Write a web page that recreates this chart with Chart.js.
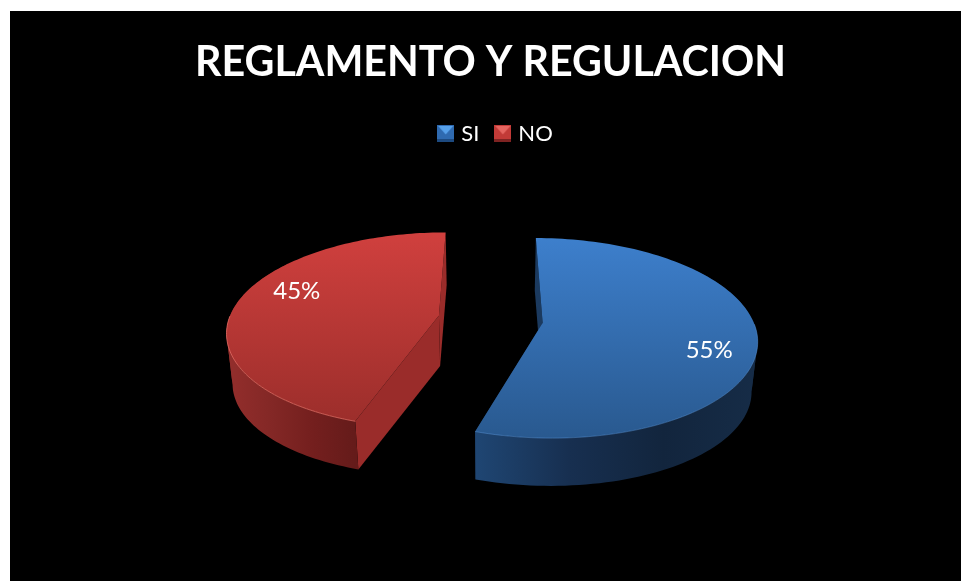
<!DOCTYPE html>
<html>
<head>
<meta charset="utf-8">
<title>REGLAMENTO Y REGULACION</title>
<script src="https://cdn.jsdelivr.net/npm/chart.js@4"></script>
<style>
html, body { margin: 0; background: #fff; overflow: hidden; width: 961px; height: 581px; }
#myChart { position: absolute; left: 10px; top: 11px; background: #000; }
</style>
</head>
<body>
<canvas id="myChart" width="961" height="570"></canvas>
<script>
const chartTitle = 'REGLAMENTO Y REGULACION';
const categories = ['SI', 'NO'];
const seriesValues = [55, 45];
const percentLabels = ['55%', '45%'];

// colours: top face gradient, outer wall gradient, cut face, rim, legend icon
const topColors = [['#3d7fcc', '#29598f'], ['#d0403e', '#9c2e2b']];
const wallColors = [['#1f4673', '#172f50', '#12253d', '#162c47'], ['#942e2c', '#842826', '#741f1e', '#651b1a']];
const cutColors = ['#1b3a5f', '#9a2c2a'];
const rimColors = ['rgba(90,150,220,0.45)', 'rgba(235,115,105,0.7)'];
const iconColors = [['#2f6ab0', '#56a0ea', '#1d4a80'], ['#c23a37', '#e56560', '#7f2322']];

// how the flat pie is laid down in perspective
const tilt = 0.46, persp = 0.15, depthShrink = 0.977, depthDrop = 50.5;
const labelTurn = 11 * Math.PI / 180, labelDist = 0.78;

// a point on the disc (px from pie centre) to the screen
function project(arc, dx, dy, low) {
  const R = arc.outerRadius;
  const w = 1 - persp * dy / R;
  let x = dx / w, y = dy * tilt / w;
  if (low) {
    x *= depthShrink;
    y = y * depthShrink + depthDrop;
  }
  return [arc.x + x, arc.y + y];
}

function arcOffset(arc) {
  const mid = (arc.startAngle + arc.endAngle) / 2;
  return [Math.cos(mid) * arc.options.offset, Math.sin(mid) * arc.options.offset];
}

function rimPoint(arc, angle, low) {
  const o = arcOffset(arc);
  return project(arc, o[0] + Math.cos(angle) * arc.outerRadius, o[1] + Math.sin(angle) * arc.outerRadius, low);
}

function apexPoint(arc, low) {
  const o = arcOffset(arc);
  return project(arc, o[0], o[1], low);
}

function poly(ctx, pts) {
  ctx.beginPath();
  pts.forEach((p, i) => i ? ctx.lineTo(p[0], p[1]) : ctx.moveTo(p[0], p[1]));
  ctx.closePath();
}

function drawSlice(ctx, arc, i) {
  const steps = 120;
  const angles = [];
  for (let s = 0; s <= steps; s++) angles.push(arc.startAngle + (arc.endAngle - arc.startAngle) * s / steps);
  const rim = angles.map(a => rimPoint(arc, a, false));
  const rimLow = angles.map(a => rimPoint(arc, a, true));
  const apex = apexPoint(arc, false), apexLow = apexPoint(arc, true);

  // cut faces
  ctx.fillStyle = cutColors[i];
  poly(ctx, [rim[0], apex, apexLow, rimLow[0]]);
  ctx.fill();
  poly(ctx, [rim[steps], apex, apexLow, rimLow[steps]]);
  ctx.fill();

  // outer wall, filled in two parts split at the side of the rim,
  // one path would cancel itself out where the band folds over
  const xs = rim.map(p => p[0]);
  const left = Math.min(...xs), right = Math.max(...xs);
  const wall = i === 0
    ? ctx.createLinearGradient(rim[steps][0], 0, right, 0)
    : ctx.createLinearGradient(left, 0, rim[0][0], 0);
  wallColors[i].forEach((c, k) => wall.addColorStop(k / (wallColors[i].length - 1), c));
  ctx.fillStyle = wall;
  const band = [];
  angles.forEach((a, s) => { if (Math.sin(a) > -0.6) band.push(s); });
  const side = xs.indexOf(i === 0 ? right : left);
  [band.filter(s => s <= side), band.filter(s => s >= side)].forEach(part => {
    poly(ctx, part.map(s => rim[s]).concat(part.slice().reverse().map(s => rimLow[s])));
    ctx.fill();
  });

  // top face
  const ys = rim.map(p => p[1]);
  const top = ctx.createLinearGradient(0, Math.min(...ys), 0, Math.max(...ys));
  top.addColorStop(0, topColors[i][0]);
  top.addColorStop(1, topColors[i][1]);
  ctx.fillStyle = top;
  poly(ctx, [apex].concat(rim));
  ctx.fill();

  // light edge along the front of the rim
  const front = band.filter(s => Math.sin(angles[s]) > 0);
  ctx.strokeStyle = rimColors[i];
  ctx.lineWidth = 1;
  ctx.beginPath();
  front.forEach((s, k) => k ? ctx.lineTo(rim[s][0], rim[s][1]) : ctx.moveTo(rim[s][0], rim[s][1]));
  ctx.stroke();
}

const pie3d = {
  id: 'pie3d',
  afterLayout(chart) {
    // legend sits a little right of the centre
    chart.legend.left += 13;
  },
  beforeDatasetDraw(chart, args) {
    const ctx = chart.ctx;
    ctx.save();
    // back slice first
    [1, 0].forEach(i => drawSlice(ctx, args.meta.data[i], i));
    ctx.font = '24px Lato';
    ctx.fillStyle = '#fff';
    ctx.textAlign = 'center';
    ctx.textBaseline = 'middle';
    args.meta.data.forEach((arc, i) => {
      const o = arcOffset(arc);
      const a = (arc.startAngle + arc.endAngle) / 2 + labelTurn;
      const r = arc.outerRadius * labelDist;
      const p = project(arc, o[0] + Math.cos(a) * r, o[1] + Math.sin(a) * r, false);
      ctx.fillText(percentLabels[i], p[0] + 3, p[1] + 0.5);
    });
    ctx.restore();
    return false;
  }
};

function legendIcon(c) {
  const s = 17;
  const cv = document.createElement('canvas');
  cv.width = s; cv.height = s;
  const g = cv.getContext('2d');
  g.fillStyle = c[0];
  g.fillRect(0, 0, s, s);
  g.fillStyle = c[1];
  poly(g, [[1, 1], [s - 1, 1], [s / 2, s / 2 + 1]]);
  g.fill();
  g.fillStyle = c[2];
  g.fillRect(0, s - 3, s, 3);
  return cv;
}

new Chart(document.getElementById('myChart').getContext('2d'), {
  type: 'pie',
  data: {
    labels: categories,
    datasets: [{
      data: seriesValues,
      backgroundColor: topColors.map(c => c[0]),
      borderWidth: 0,
      offset: 52.5,
      radius: 210
    }]
  },
  plugins: [pie3d],
  options: {
    responsive: false,
    animation: false,
    layout: { padding: { bottom: 97 } },
    plugins: {
      tooltip: { enabled: false },
      title: {
        display: true,
        text: chartTitle,
        color: '#fff',
        font: { family: 'Lato', size: 41.2, weight: 'bold' },
        padding: { top: 27, bottom: 16 }
      },
      legend: {
        position: 'top',
        labels: {
          color: '#fff',
          font: { family: 'Lato', size: 22 },
          usePointStyle: true,
          pointStyleWidth: 9,
          boxHeight: 17,
          padding: 19,
          generateLabels: chart => categories.map((c, i) => ({
            text: c,
            fontColor: '#fff',
            pointStyle: legendIcon(iconColors[i]),
            fillStyle: topColors[i][0],
            lineWidth: 0,
            hidden: false,
            index: i
          }))
        }
      }
    }
  }
});
</script>
</body>
</html>
